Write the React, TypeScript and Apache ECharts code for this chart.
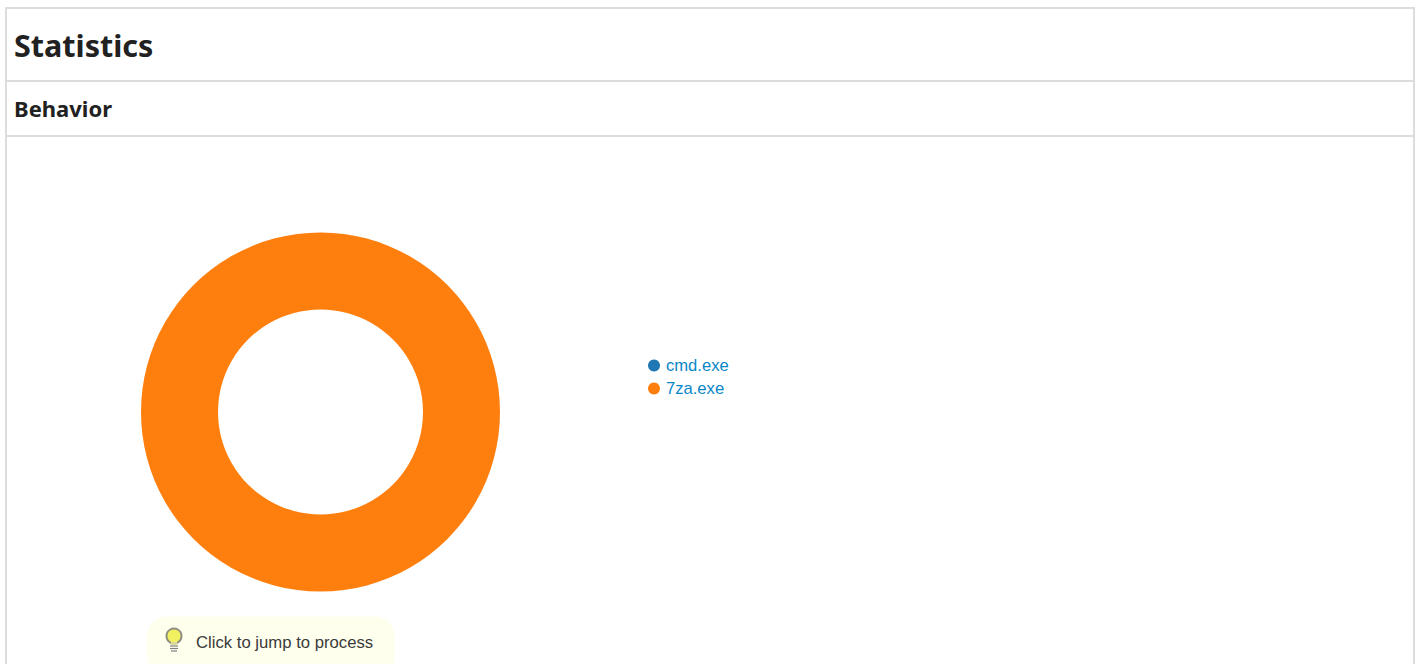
import React, { useEffect, useRef } from "react";
import * as echarts from "echarts";

const processNames = ["cmd.exe", "7za.exe"];
const processValues = [0, 100];
const sliceColors = ["#1f77b4", "#ff7f0e"];
const pageTitle = "Statistics";
const sectionTitle = "Behavior";
const hintText = "Click to jump to process";

const BORDER = "#dcdcdc";
const HEADING_FONT = "'Noto Sans', sans-serif";

export default function App() {
  const ref = useRef<HTMLDivElement>(null);
  useEffect(() => {
    document.body.style.margin = "0";
    const chart = echarts.init(ref.current!, undefined, { renderer: "svg" });
    chart.setOption({
      animation: false,
      backgroundColor: "#ffffff",
      color: sliceColors,
      tooltip: { show: false },
      legend: {
        show: true,
        orient: "vertical",
        left: 648,
        top: 357,
        padding: 0,
        icon: "circle",
        itemWidth: 12,
        itemHeight: 12,
        itemGap: 6,
        selectedMode: false,
        data: processNames,
        textStyle: {
          color: "#0a87c9",
          fontSize: 16.6,
          fontFamily: "'Liberation Sans', Arial, sans-serif",
          padding: [0, 0, 0, 1],
        },
      },
      series: [
        {
          type: "pie",
          center: [320.5, 412],
          radius: [102.5, 179.5],
          startAngle: 90,
          silent: true,
          label: { show: false },
          labelLine: { show: false },
          data: processNames.map((name, i) => ({ name, value: processValues[i] })),
        },
      ],
      graphic: [
        { type: "rect", silent: true, shape: { x: 5, y: 7, width: 1410, height: 2 }, style: { fill: BORDER } },
        { type: "rect", silent: true, shape: { x: 5, y: 7, width: 2, height: 657 }, style: { fill: BORDER } },
        { type: "rect", silent: true, shape: { x: 1413, y: 7, width: 2, height: 657 }, style: { fill: BORDER } },
        { type: "rect", silent: true, shape: { x: 5, y: 80, width: 1410, height: 2 }, style: { fill: BORDER } },
        { type: "rect", silent: true, shape: { x: 5, y: 135, width: 1410, height: 2 }, style: { fill: BORDER } },
        {
          type: "text", silent: true, x: 14, y: 44.5,
          style: { text: pageTitle, fill: "#212121", font: `700 30.5px ${HEADING_FONT}`, textVerticalAlign: "middle" },
        },
        {
          type: "text", silent: true, x: 14, y: 108,
          style: { text: sectionTitle, fill: "#212121", font: `700 22px ${HEADING_FONT}`, textVerticalAlign: "middle" },
        },
        { type: "rect", silent: true, shape: { x: 147, y: 616.5, width: 248, height: 60, r: 20 }, style: { fill: "#ffffee" } },
        {
          type: "text", silent: true, x: 196, y: 642,
          style: { text: hintText, fill: "#3a3a3a", font: "16.7px 'Liberation Sans', Arial, sans-serif", textVerticalAlign: "middle" },
        },
        { type: "circle", silent: true, shape: { cx: 174, cy: 636, r: 7.5 }, style: { fill: "#f0f060", stroke: "#8f8f80", lineWidth: 2 } },
        { type: "rect", silent: true, shape: { x: 171, y: 642, width: 6, height: 3 }, style: { fill: "#d8d8a0" } },
        { type: "line", silent: true, shape: { x1: 170, y1: 646, x2: 178, y2: 646 }, style: { stroke: "#808080", lineWidth: 1.2 } },
        { type: "line", silent: true, shape: { x1: 170, y1: 648.5, x2: 178, y2: 648.5 }, style: { stroke: "#808080", lineWidth: 1.2 } },
        { type: "line", silent: true, shape: { x1: 171, y1: 651, x2: 177, y2: 651 }, style: { stroke: "#808080", lineWidth: 1.2 } },
      ],
    });
    return () => chart.dispose();
  }, []);
  return <div ref={ref} style={{ position: "fixed", left: 0, top: 0, width: 1421, height: 664 }} />;
}
